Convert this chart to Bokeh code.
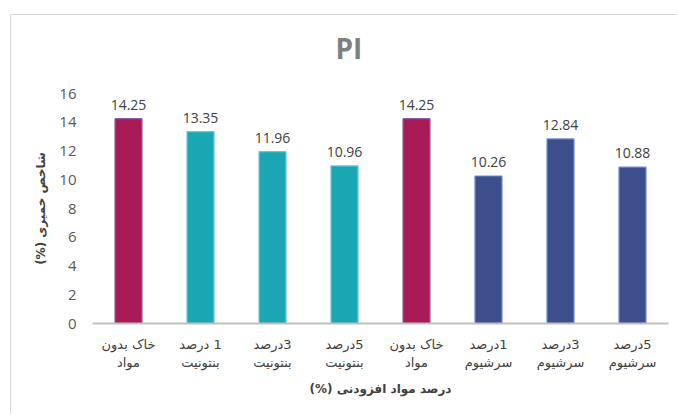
from bokeh.plotting import figure
from bokeh.models import Range1d, FixedTicker, ColumnDataSource, Title
from bokeh.core.properties import value
from bokeh.embed import file_html
from bokeh.resources import INLINE

RLM = "\u200F"

categories = [
    "خاک بدون\nمواد",
    "1 درصد\nبنتونیت",
    "3درصد\nبنتونیت",
    "5درصد\nبنتونیت",
    "خاک بدون\nمواد",
    "1درصد\nسرشیوم",
    "3درصد\nسرشیوم",
    "5درصد\nسرشیوم",
]
pi_values = [14.25, 13.35, 11.96, 10.96, 14.25, 10.26, 12.84, 10.88]
groups = ["control", "bentonite", "bentonite", "bentonite", "control", "cerium", "cerium", "cerium"]
y_ticks = [0, 2, 4, 6, 8, 10, 12, 14, 16]
title_text = "PI"
x_title = "درصد مواد افزودنی (%)"
y_title = "شاخص خمیری (%)"

fill_map = {"control": "#A81A55", "bentonite": "#1AA7B3", "cerium": "#3C4E8C"}
line_map = {"control": "#8A5FA8", "bentonite": "#6CC6D0", "cerium": "#6F8DCB"}

xs = list(range(len(pi_values)))
src = ColumnDataSource(dict(
    x=xs,
    top=pi_values,
    fill=[fill_map[g] for g in groups],
    line=[line_map[g] for g in groups],
    label=[f"{v:.2f}" for v in pi_values],
))

p = figure(
    width=667, height=400,
    x_range=Range1d(-0.5, len(pi_values) - 0.5),
    y_range=Range1d(0, 16),
    output_backend="svg", toolbar_location=None,
    min_border_left=81, min_border_right=10, min_border_top=78, min_border_bottom=92,
    title=title_text,
)
p.styles = {
    "border-left": "1px solid #d9d9d9",
    "border-top": "1px solid #d9d9d9",
    "margin-left": "10px",
    "margin-top": "14px",
}

# spacer between the frame and the chart title
p.add_layout(Title(text=" ", text_font_size="1px", standoff=19), "above")

p.title.align = "left"
p.title.text_font = "Open Sans"
p.title.text_font_size = "28px"
p.title.text_font_style = "bold"
p.title.text_color = "#7F7F7F"
p.title.offset = 243
p.title.standoff = 10

p.vbar(x="x", top="top", width=0.375, bottom=0, source=src,
       fill_color="fill", line_color="line", line_width=1.2)

p.text(x="x", y="top", text="label", source=src, text_align="center",
       text_baseline="alphabetic", y_offset=-14, text_font=value("Open Sans"),
       text_font_size="14px", text_color="#404040")

p.grid.visible = False
p.outline_line_color = None
p.background_fill_color = "white"
p.border_fill_color = "white"

xa = p.xaxis[0]
xa.ticker = FixedTicker(ticks=xs)
xa.major_label_overrides = {i: "\n".join(RLM + s + RLM for s in c.split("\n")) for i, c in enumerate(categories)}
xa.major_tick_line_color = None
xa.minor_tick_line_color = None
xa.major_tick_out = 0
xa.axis_line_color = "#BFBFBF"
xa.axis_line_width = 2
xa.major_label_text_font = "DejaVu Sans"
xa.major_label_text_font_size = "13px"
xa.major_label_text_color = "#404040"
xa.major_label_standoff = 13
xa.axis_label = RLM + x_title + RLM
xa.axis_label_text_font = "DejaVu Sans"
xa.axis_label_text_font_size = "12px"
xa.axis_label_text_font_style = "bold"
xa.axis_label_text_color = "#404040"
xa.axis_label_standoff = 9

ya = p.yaxis[0]
ya.ticker = FixedTicker(ticks=y_ticks)
ya.major_tick_line_color = None
ya.minor_tick_line_color = None
ya.major_tick_out = 0
ya.axis_line_color = None
ya.major_label_text_font = "Open Sans"
ya.major_label_text_font_size = "15px"
ya.major_label_text_color = "#595959"
ya.major_label_standoff = 16
ya.axis_label = RLM + y_title + RLM
ya.axis_label_text_font = "DejaVu Sans"
ya.axis_label_text_font_size = "12px"
ya.axis_label_text_font_style = "bold"
ya.axis_label_text_color = "#404040"
ya.axis_label_standoff = 8

open("out.html", "w").write(file_html(p, INLINE))
